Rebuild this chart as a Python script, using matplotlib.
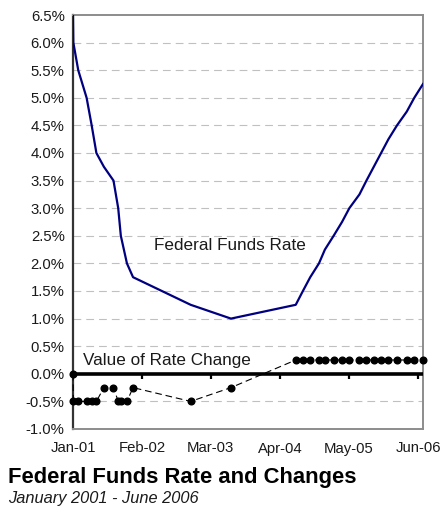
import matplotlib
matplotlib.use("Agg")
import matplotlib.pyplot as plt
import matplotlib.dates as mdates
from matplotlib.ticker import FuncFormatter, MultipleLocator
import numpy as np

plt.rcParams['font.family'] = ['Liberation Sans', 'DejaVu Sans']

# FOMC target rate decisions, Jan 2001 - Jun 2006
dates = ["2001-01-01", "2001-01-03", "2001-01-31", "2001-03-20", "2001-04-18",
         "2001-05-15", "2001-06-27", "2001-08-21", "2001-09-17", "2001-10-02",
         "2001-11-06", "2001-12-11", "2002-11-06", "2003-06-25", "2004-06-30",
         "2004-08-10", "2004-09-21", "2004-11-10", "2004-12-14", "2005-02-02",
         "2005-03-22", "2005-05-03", "2005-06-30", "2005-08-09", "2005-09-20",
         "2005-11-01", "2005-12-13", "2006-01-31", "2006-03-28", "2006-05-10",
         "2006-06-29"]
rate = [6.50, 6.00, 5.50, 5.00, 4.50, 4.00, 3.75, 3.50, 3.00, 2.50, 2.00, 1.75,
        1.25, 1.00, 1.25, 1.50, 1.75, 2.00, 2.25, 2.50, 2.75, 3.00, 3.25, 3.50,
        3.75, 4.00, 4.25, 4.50, 4.75, 5.00, 5.25]
change = [0.00, -0.50, -0.50, -0.50, -0.50, -0.50, -0.25, -0.25, -0.50, -0.50,
          -0.50, -0.25, -0.50, -0.25, 0.25, 0.25, 0.25, 0.25, 0.25, 0.25, 0.25,
          0.25, 0.25, 0.25, 0.25, 0.25, 0.25, 0.25, 0.25, 0.25, 0.25]
tick_dates = ["2001-01-01", "2002-02-01", "2003-03-01", "2004-04-01",
              "2005-05-01", "2006-06-01"]
tick_labels = ["Jan-01", "Feb-02", "Mar-03", "Apr-04", "May-05", "Jun-06"]

x = mdates.datestr2num(dates)
xt = mdates.datestr2num(tick_dates)

fig = plt.figure(figsize=(4.43, 5.14), dpi=100)
ax = fig.add_axes([73 / 443, 1 - 429 / 514, 350 / 443, 414 / 514])

# horizontal dashed gridlines
for v in np.arange(-0.5, 6.5, 0.5):
    if abs(v) < 1e-9:
        continue
    ax.axhline(v, color='#c0c0c0', lw=0.8, dashes=(7, 4.5), zorder=1)

# zero axis with small tick marks below it
ax.axhline(0, color='black', lw=2.6, zorder=3)
for t in xt:
    ax.plot([t, t], [0, -0.09], color='black', lw=1.6, zorder=3,
            solid_capstyle='butt')

ax.plot(x, rate, color='#000080', lw=1.6, zorder=4)
ax.plot(x, change, color='black', lw=0.8, dashes=(6, 3.5), marker='o',
        markersize=4.8, markerfacecolor='black', markeredgecolor='black',
        zorder=5, clip_on=False)

ax.set_xlim(x[0], x[-1])
ax.set_ylim(-1.0, 6.5)
ax.yaxis.set_major_locator(MultipleLocator(0.5))
ax.yaxis.set_major_formatter(FuncFormatter(lambda v, p: f"{v:.1f}%"))
ax.set_xticks(xt)
ax.set_xticklabels(tick_labels)
ax.tick_params(axis='both', length=0, labelsize=10.7, colors='#1a1a1a')
ax.tick_params(axis='y', pad=6)
ax.tick_params(axis='x', pad=9)

for side in ('top', 'right', 'bottom'):
    ax.spines[side].set_color('#8c8c8c')
    ax.spines[side].set_linewidth(1.4)
ax.spines['left'].set_color('#333333')
ax.spines['left'].set_linewidth(1.6)

ax.text(mdates.datestr2num("2002-04-09"), 2.32, "Federal Funds Rate",
        fontsize=12.3, color='#1a1a1a', ha='left', va='center', zorder=6)
ax.text(mdates.datestr2num("2001-02-27"), 0.25, "Value of Rate Change",
        fontsize=12.3, color='#1a1a1a', ha='left', va='center', zorder=6)

fig.text(8 / 443, 1 - 483 / 514, "Federal Funds Rate and Changes",
         fontsize=15.8, fontweight='bold', color='black', ha='left',
         va='baseline')
fig.text(8 / 443, 1 - 503 / 514, "January 2001 - June 2006",
         fontsize=11.8, fontstyle='italic', color='#1a1a1a', ha='left',
         va='baseline')

fig.savefig("out.png", dpi=100, facecolor='white')
